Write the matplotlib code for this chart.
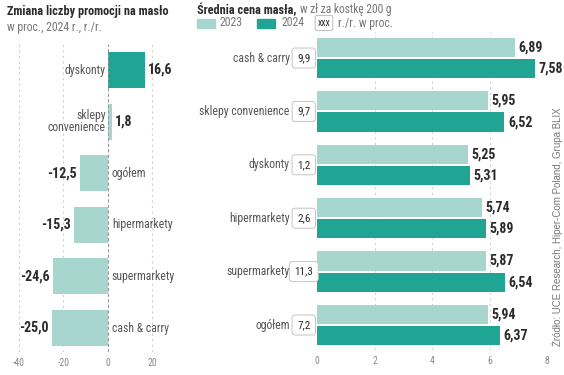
import matplotlib
matplotlib.use("Agg")
import matplotlib.pyplot as plt
from matplotlib.patches import Rectangle

# Dane
left_cats = ['dyskonty', 'sklepy\nconvenience', 'ogółem', 'hipermarkety', 'supermarkety', 'cash & carry']
left_vals = [16.6, 1.8, -12.5, -15.3, -24.6, -25.0]

right_cats = ['cash & carry', 'sklepy convenience', 'dyskonty', 'hipermarkety', 'supermarkety', 'ogółem']
price_2023 = [6.89, 5.95, 5.25, 5.74, 5.87, 5.94]
price_2024 = [7.58, 6.52, 5.31, 5.89, 6.54, 6.37]
yoy = [9.9, 9.7, 1.2, 2.6, 11.3, 7.2]

LIGHT = '#a6d6ce'
DARK = '#20a493'
TXT = '#2b2b2b'
GRAY = '#777777'
FONT = ['Liberation Sans Narrow', 'Roboto Condensed', 'DejaVu Sans']
plt.rcParams['font.family'] = FONT

W, H = 564, 375
fig = plt.figure(figsize=(W / 100, H / 100), dpi=100)


def fx(px):
    return px / W


def fy(py):
    return 1 - py / H


def fmt(v, d=1):
    return f"{v:.{d}f}".replace('.', ',')


# Wykres lewy
axl = fig.add_axes([fx(10), fy(352), fx(179) - fx(10), fy(44) - fy(352)])
ypos = list(range(len(left_cats)))
vmax = max(left_vals)
cols = [DARK if v == vmax else LIGHT for v in left_vals]
axl.barh(ypos, left_vals, height=0.70, color=cols, zorder=2)
axl.set_xlim(-44, 32)
axl.set_ylim(5.465, -0.504)
for x in [-40, -20, 20]:
    axl.axvline(x, color='#d0d0d0', lw=0.8, ls=(0, (2, 3)), zorder=0)
axl.axvline(0, color='#999999', lw=0.8, ls=(0, (3, 2)), zorder=3)
for y, v, c in zip(ypos, left_vals, left_cats):
    if v >= 0:
        axl.text(-1, y, c, ha='right', va='center', fontsize=8.5, color='#555555', linespacing=0.95)
        axl.text(v + 1.5, y, fmt(v), ha='left', va='center', fontsize=10, fontweight='bold', color=TXT)
    else:
        axl.text(1.8, y, c, ha='left', va='center', fontsize=8.5, color='#555555')
        axl.text(v - 1.5, y, fmt(v), ha='right', va='center', fontsize=10, fontweight='bold', color=TXT)
axl.set_xticks([-40, -20, 0, 20])
axl.set_xticklabels(['-40', '-20', '0', '20'])
axl.set_yticks([])
axl.tick_params(axis='x', length=0, labelsize=7, labelcolor='#888888', pad=4)
for s in axl.spines.values():
    s.set_visible(False)

# Wykres prawy
axr = fig.add_axes([fx(317), fy(350), fx(547) - fx(317), fy(32) - fy(350)])
yr = list(range(len(right_cats)))
off = 0.2
bh = 0.36
axr.barh([y - off for y in yr], price_2023, height=bh, color=LIGHT, zorder=2)
axr.barh([y + off for y in yr], price_2024, height=bh, color=DARK, zorder=2)
axr.set_xlim(0, 8)
axr.set_ylim(5.468, -0.487)
for x in [2, 4, 6]:
    axr.axvline(x, color='#d0d0d0', lw=0.8, ls=(0, (2, 3)), zorder=0)
for y, a, b in zip(yr, price_2023, price_2024):
    axr.text(a + 0.12, y - off, fmt(a, 2), ha='left', va='center', fontsize=10,
             fontweight='bold', color=TXT, clip_on=False)
    axr.text(b + 0.12, y + off, fmt(b, 2), ha='left', va='center', fontsize=10,
             fontweight='bold', color=TXT, clip_on=False)
for y, c, r in zip(yr, right_cats, yoy):
    axr.text(-0.95, y, c, ha='right', va='center', fontsize=8.5, color='#555555', clip_on=False)
    axr.text(-0.46, y, fmt(r), ha='center', va='center', fontsize=8, color=TXT, clip_on=False,
             bbox=dict(boxstyle='round,pad=0.45,rounding_size=0.25', fc='white', ec='#c4c4c4', lw=0.7))
axr.set_xticks([0, 2, 4, 6, 8])
axr.set_yticks([])
axr.tick_params(axis='x', length=0, labelsize=7, labelcolor='#888888', pad=4)
for s in axr.spines.values():
    s.set_visible(False)

# Tytuly
fig.text(fx(7), fy(12), 'Zmiana liczby promocji na masło', fontsize=8.8, fontweight='bold',
         color=TXT, va='center')
fig.text(fx(7), fy(27), 'w proc., 2024 r., r./r.', fontsize=8.5, color=GRAY, va='center')

t1 = fig.text(fx(197), fy(10), 'Średnia cena masła,', fontsize=8.8, fontweight='bold',
              color=TXT, va='center')
fig.canvas.draw()
bb = t1.get_window_extent()
fig.text(bb.x1 / W + fx(3), fy(10), 'w zł za kostkę 200 g', fontsize=8.3, color=GRAY, va='center')

# Legenda
fig.patches.append(Rectangle((fx(197), fy(28)), fx(18), fy(19) - fy(28), color=LIGHT,
                             transform=fig.transFigure, figure=fig))
fig.text(fx(220), fy(23), '2023', fontsize=8.5, color=GRAY, va='center')
fig.patches.append(Rectangle((fx(257), fy(28)), fx(18), fy(19) - fy(28), color=DARK,
                             transform=fig.transFigure, figure=fig))
fig.text(fx(281), fy(23), '2024', fontsize=8.5, color=GRAY, va='center')
fig.text(fx(324), fy(23), 'xxx', fontsize=7, color=TXT, va='center', ha='center',
         bbox=dict(boxstyle='round,pad=0.25,rounding_size=0.15', fc='white', ec='#bbbbbb', lw=0.7))
fig.text(fx(338), fy(23), 'r./r. w proc.', fontsize=8.5, color=GRAY, va='center')

# Zrodlo
fig.text(fx(557), fy(346), 'Źródło: UCE Research, Hiper-Com Poland, Grupa BLIX', rotation=90,
         fontsize=7, family=['Liberation Sans', 'DejaVu Sans'], color='#777777',
         ha='center', va='bottom')

fig.savefig('out.png', dpi=100)
